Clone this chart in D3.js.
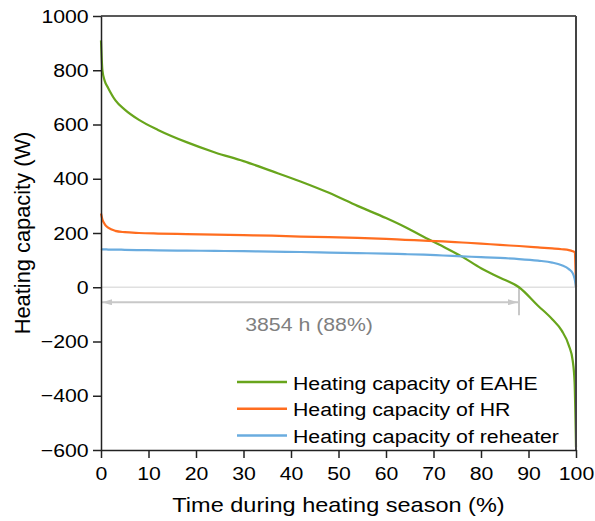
<!DOCTYPE html>
<html>
<head>
<meta charset="utf-8">
<script src="https://cdn.jsdelivr.net/npm/d3@7"></script>
<style>
  body { margin: 0; background: #fff; }
  svg text { font-family: "Liberation Sans", Arial, sans-serif; }
</style>
</head>
<body>
<div id="chart"></div>
<script>
// data
const pct = [0, 0.3, 0.8, 1.5, 3, 5, 8, 12, 18, 24, 30, 36, 42, 48, 54, 60, 64, 68, 72, 76, 80, 84, 88, 92, 95, 97, 98.5, 99.3, 99.7, 100];
const eahe = [910, 800, 760, 735, 690, 655, 617, 580, 535, 497, 465, 428, 390, 348, 300, 255, 222, 185, 150, 113, 70, 35, 0, -68, -118, -160, -215, -270, -350, -590];
const hr = [272, 250, 232, 220, 208, 203, 200, 198, 196, 194, 192, 190, 187, 185, 182, 178, 175, 172, 169, 165, 161, 156, 152, 147, 143, 140, 137, 133, 130, 0];
const reheater = [141, 140, 140, 139, 139, 138, 137, 136, 135, 134, 133, 131, 130, 128, 126, 124, 122, 120, 117, 114, 111, 108, 104, 98, 91, 81, 67, 52, 32, 0];

const seriesNames = ["Heating capacity of EAHE", "Heating capacity of HR", "Heating capacity of reheater"];
const seriesColors = ["#68a51c", "#ff6d1f", "#6aacdf"];
const xTicks = [0, 10, 20, 30, 40, 50, 60, 70, 80, 90, 100];
const yTicks = [-600, -400, -200, 0, 200, 400, 600, 800, 1000];
const spanPct = 88;
const spanLabel = "3854 h (88%)";

const W = 595, H = 521;
const margin = { top: 16, right: 19, bottom: 71, left: 101 };
const width = W - margin.left - margin.right;
const height = H - margin.top - margin.bottom;
const sx = 1.12; // text in the picture is a bit wide

const svg = d3.select("#chart").append("svg").attr("width", W).attr("height", H);
const g = svg.append("g").attr("transform", "translate(" + margin.left + "," + margin.top + ")");

const x = d3.scaleLinear().domain([0, 100]).range([0, width]);
const y = d3.scaleLinear().domain([-600, 1000]).range([height, 0]);

// text helper, stretched sideways
function label(parent, tx, ty, str, size, anchor) {
  return parent.append("text")
    .attr("transform", "translate(" + tx + "," + ty + ") scale(" + sx + ",1)")
    .attr("text-anchor", anchor || "start")
    .attr("font-size", size)
    .text(str);
}

// zero line
g.append("line")
  .attr("x1", 0).attr("x2", width)
  .attr("y1", y(0)).attr("y2", y(0))
  .attr("stroke", "#e0e0e0").attr("stroke-width", 1.5);

// arrow markers
const defs = svg.append("defs");
defs.append("marker")
  .attr("id", "arr")
  .attr("viewBox", "0 0 10 6")
  .attr("refX", 10).attr("refY", 3)
  .attr("markerWidth", 10).attr("markerHeight", 6)
  .attr("markerUnits", "userSpaceOnUse")
  .attr("orient", "auto-start-reverse")
  .append("path").attr("d", "M0,0L10,3L0,6Z").attr("fill", "#c8c8c8");

const arrowY = y(0) + 15;
g.append("line")
  .attr("x1", x(0) + 1).attr("x2", x(spanPct) - 1)
  .attr("y1", arrowY).attr("y2", arrowY)
  .attr("stroke", "#c8c8c8").attr("stroke-width", 2)
  .attr("marker-start", "url(#arr)")
  .attr("marker-end", "url(#arr)");
g.append("line")
  .attr("x1", x(spanPct)).attr("x2", x(spanPct))
  .attr("y1", y(0)).attr("y2", y(0) + 28)
  .attr("stroke", "#c8c8c8").attr("stroke-width", 2);
label(g, x(43.8), y(-160), spanLabel, 19, "middle").attr("fill", "#7f7f7f");

// lines
const line = d3.line()
  .x((d, i) => x(pct[i]))
  .y((d) => y(d))
  .curve(d3.curveMonotoneX);

[eahe, hr, reheater].forEach((s, k) => {
  g.append("path")
    .attr("d", line(s))
    .attr("fill", "none")
    .attr("stroke", seriesColors[k])
    .attr("stroke-width", 2.2);
});

// frame top + right
g.append("line").attr("x1", 0).attr("x2", width).attr("y1", 0).attr("y2", 0)
  .attr("stroke", "#222").attr("stroke-width", 1.5);
g.append("line").attr("x1", width).attr("x2", width).attr("y1", 0).attr("y2", height)
  .attr("stroke", "#444").attr("stroke-width", 2);

// axes
const xAxis = g.append("g")
  .attr("transform", "translate(0," + height + ")")
  .call(d3.axisBottom(x).tickValues(xTicks).tickSize(8).tickPadding(9).tickSizeOuter(0));
const yAxis = g.append("g")
  .call(d3.axisLeft(y).tickValues(yTicks).tickSize(8).tickPadding(3).tickSizeOuter(0)
    .tickFormat((d) => (d < 0 ? "\u2212" + Math.abs(d) : d)));

[xAxis, yAxis].forEach((a) => {
  a.select(".domain").attr("stroke", "#222").attr("stroke-width", 1.5);
  a.selectAll(".tick line").attr("stroke", "#222").attr("stroke-width", 1.5);
  a.selectAll(".tick text").attr("font-size", 19).attr("fill", "#000")
    .attr("transform", "scale(" + sx + ",1)")
    .style("font-family", "'Liberation Sans', Arial, sans-serif");
});

// axis titles
label(svg, margin.left + width / 2, 512, "Time during heating season (%)", 21, "middle");
svg.append("text")
  .attr("transform", "translate(30," + (margin.top + height / 2) + ") rotate(-90) scale(1.04,1.06)")
  .attr("text-anchor", "middle").attr("font-size", 21)
  .text("Heating capacity (W)");

// legend
const leg = svg.append("g").attr("transform", "translate(237,382)");
seriesNames.forEach((name, k) => {
  const row = leg.append("g").attr("transform", "translate(0," + k * 26.7 + ")");
  row.append("line").attr("x1", 0).attr("x2", 50).attr("y1", 0).attr("y2", 0)
    .attr("stroke", seriesColors[k]).attr("stroke-width", 2.5);
  label(row, 56, 7.5, name, 19);
});
</script>
</body>
</html>
